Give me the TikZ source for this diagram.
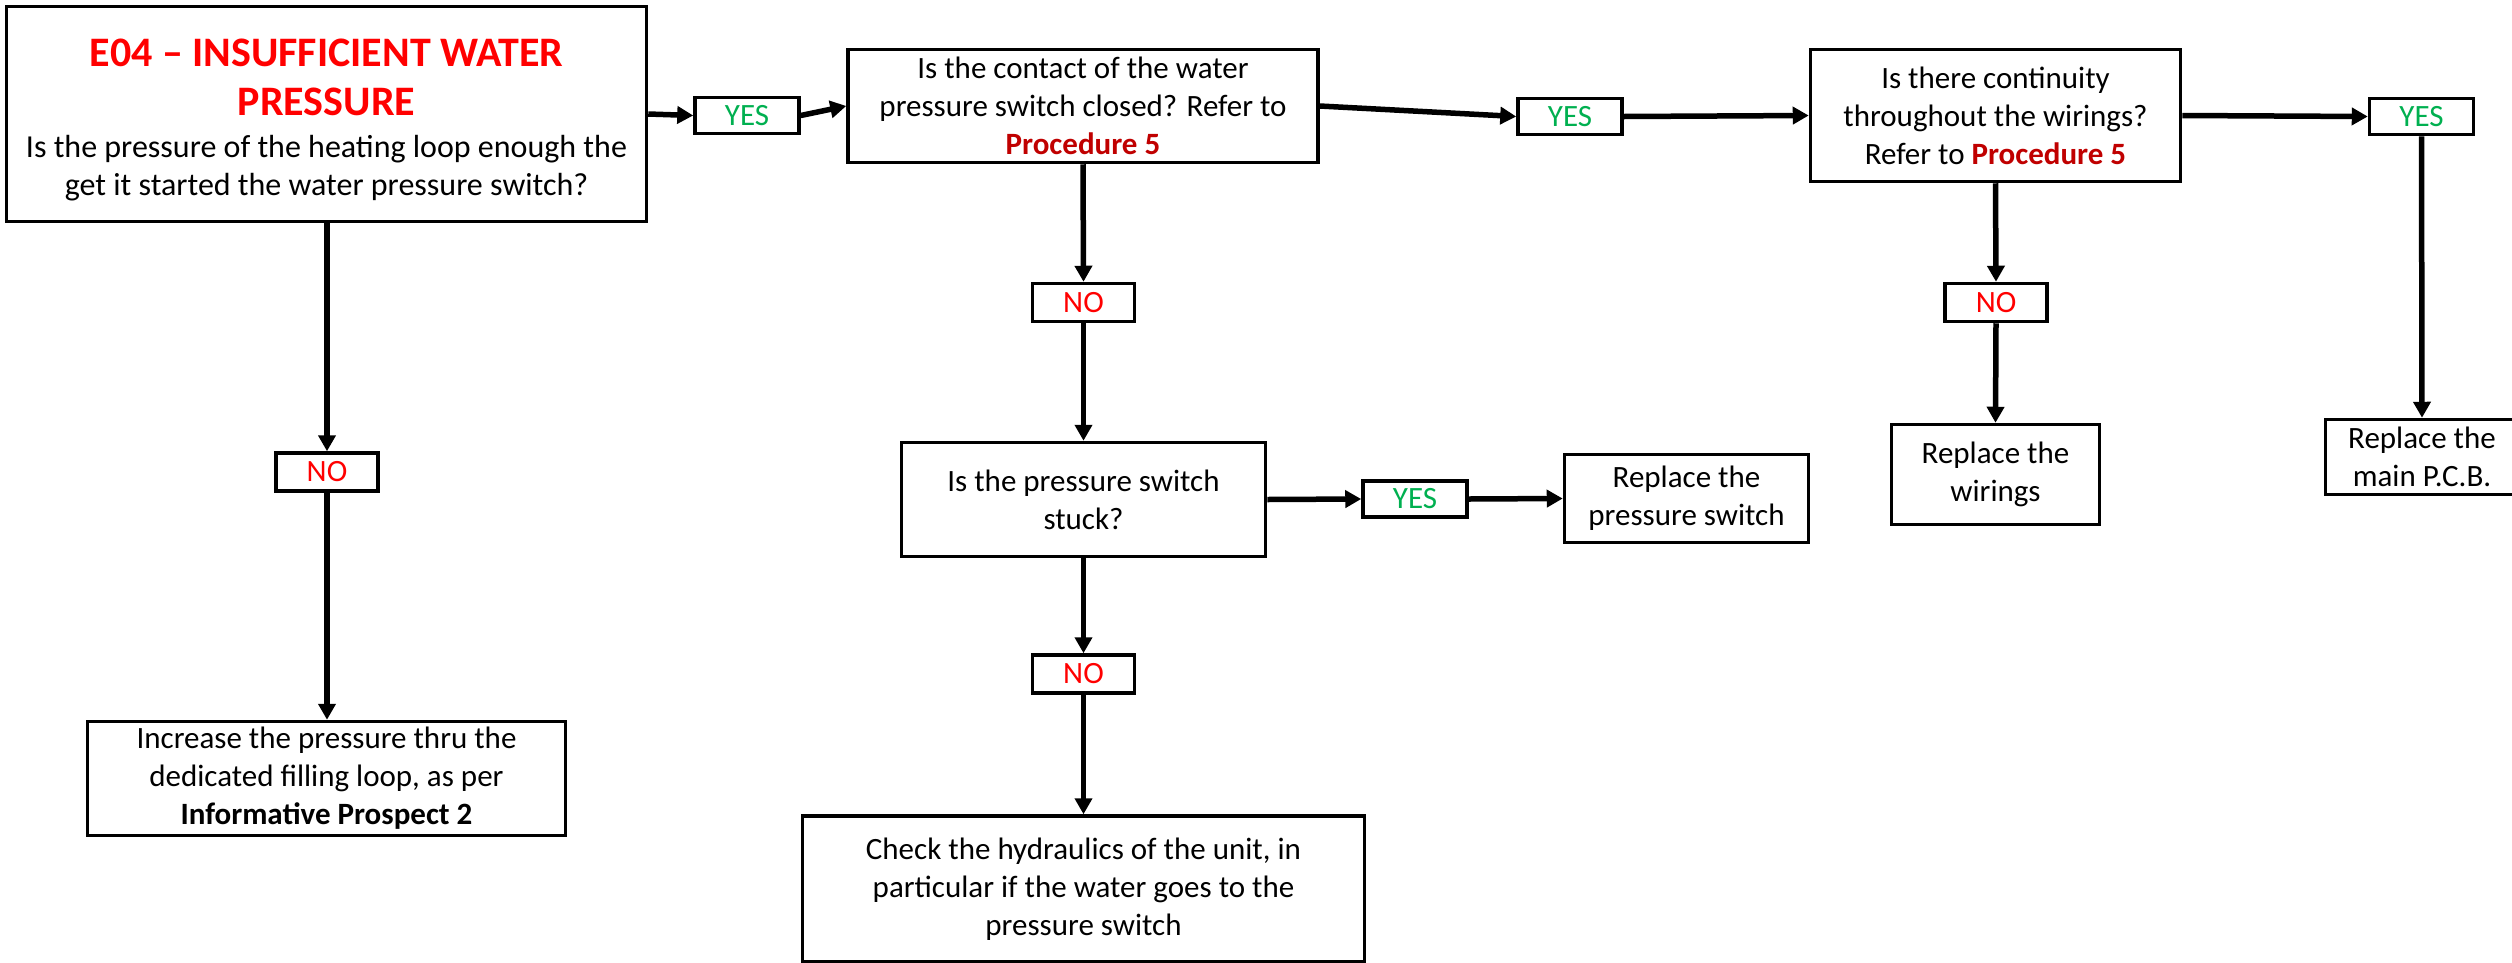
\documentclass[tikz,border=0pt]{standalone}
\usepackage{fontspec}
\setmainfont{Carlito}
\usetikzlibrary{arrows.meta}
\definecolor{yesgreen}{RGB}{0,176,80}
\definecolor{nored}{RGB}{255,0,0}
\definecolor{procred}{RGB}{192,0,0}
\newcommand\ttlline[1]{{\fontsize{42}{47}\selectfont\bfseries\color{nored}#1}}
\newcommand\procref[1]{{\bfseries\color{procred}#1}}
\begin{document}
\begin{tikzpicture}[x=1pt,y=-1pt,
  box/.style={draw, line width=3.5pt, fill=white, align=center, inner sep=0pt,
    font=\fontsize{31}{38}\selectfont},
  yesbox/.style={box, text=yesgreen, minimum width=104pt, minimum height=36pt},
  nobox/.style={box, text=nored, minimum width=102pt, minimum height=38pt},
  conn/.style={line width=5.5pt, -{Triangle[length=16pt,width=17pt]}}
]
\useasboundingbox (0,0) rectangle (2512,962);

% nodes
\node[box, minimum width=640pt, minimum height=215pt] (main) at (326.5,114) {};
\node[align=center, inner sep=0pt, font=\fontsize{32}{38}\selectfont] (maintext) at (326.5,120)
  {\ttlline{E04 -- INSUFFICIENT WATER}\\[11pt]
   \ttlline{PRESSURE}\\[4pt]
   Is the pressure of the heating loop enough the\\
   get it started the water pressure switch?};
\node[yesbox] (yes1) at (747,115.5) {YES};
\node[box, minimum width=470pt, minimum height=113pt] (contact) at (1083,106)
  {Is the contact of the water\\pressure switch closed? Refer to\\
   \procref{Procedure 5}};
\node[yesbox] (yes2) at (1570,116.5) {YES};
\node[box, minimum width=370pt, minimum height=132pt] (cont) at (1995.5,115.5)
  {Is there continuity\\throughout the wirings?\\
   Refer to \procref{Procedure 5}};
\node[yesbox] (yes3) at (2421.5,116.5) {YES};
\node[box, minimum width=193pt, minimum height=75pt] (pcb) at (2422,457)
  {Replace the\\main P.C.B.};

\node[nobox] (no1) at (327,472) {NO};
\node[box, minimum width=478pt, minimum height=114pt] (incr) at (326.5,778.5)
  {Increase the pressure thru the\\dedicated filling loop, as per\\
   \textbf{Informative Prospect 2}};

\node[nobox] (no2) at (1083.5,302.5) {NO};
\node[box, minimum width=364pt, minimum height=114pt] (stuck) at (1083.5,499.5)
  {Is the pressure switch\\stuck?};
\node[yesbox] (yes4) at (1415,499) {YES};
\node[box, minimum width=244pt, minimum height=88pt] (repps) at (1686.5,498.5)
  {Replace the\\pressure switch};
\node[nobox] (no3) at (1083.5,674) {NO};
\node[box, minimum width=562pt, minimum height=146pt] (check) at (1083.5,889)
  {Check the hydraulics of the unit, in\\particular if the water goes to the\\pressure switch};

\node[nobox] (no4) at (1996,302.5) {NO};
\node[box, minimum width=208pt, minimum height=100pt] (wir) at (1995.5,474.5)
  {Replace the\\wirings};

% connectors
\draw[conn] (main.east) -- (yes1.west);
\draw[conn] (yes1.east) -- (contact.west);
\draw[conn] (contact.east) -- (yes2.west);
\draw[conn] (yes2.east) -- (cont.west);
\draw[conn] (cont.east) -- (yes3.west);
\draw[conn] (yes3.south) -- (pcb.north);
\draw[conn] (main.south -| no1) -- (no1.north);
\draw[conn] (no1.south) -- (incr.north -| no1);
\draw[conn] (contact.south) -- (no2.north);
\draw[conn] (no2.south) -- (stuck.north);
\draw[conn] (stuck.south) -- (no3.north);
\draw[conn] (no3.south) -- (check.north);
\draw[conn] (stuck.east) -- (yes4.west);
\draw[conn] (yes4.east) -- (repps.west);
\draw[conn] (cont.south) -- (no4.north);
\draw[conn] (no4.south) -- (wir.north);
\end{tikzpicture}
\end{document}
